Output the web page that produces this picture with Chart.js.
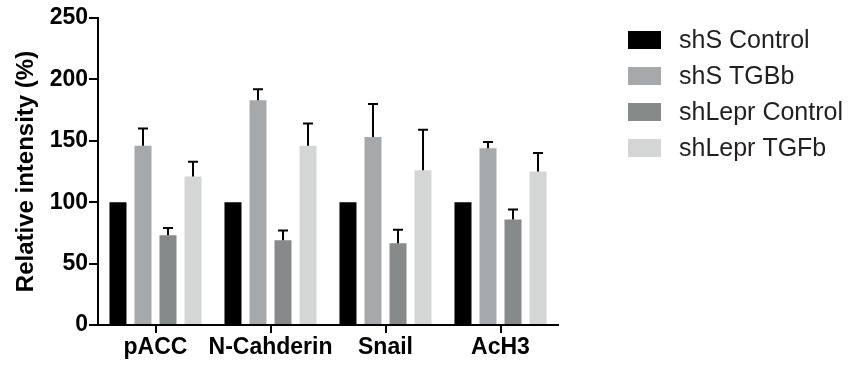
<!DOCTYPE html>
<html>
<head>
<meta charset="utf-8">
<script src="https://cdn.jsdelivr.net/npm/chart.js@4"></script>
<style>
  html, body { margin: 0; padding: 0; background: #fff; }
  #wrap { width: 849px; height: 367px; }
</style>
</head>
<body>
<div id="wrap"><canvas id="myBarChart"></canvas></div>
<script>
// data
var categories = ["pACC", "N-Cahderin", "Snail", "AcH3"];
var seriesNames = ["shS Control", "shS TGBb", "shLepr Control", "shLepr TGFb"];
var shSControl = [100, 100, 100, 100];
var shSTGBb = [146, 183, 153, 144];
var shLeprControl = [73, 69, 66.5, 86];
var shLeprTGFb = [121, 146, 126, 125];
// upper error (SD)
var errShSControl = [0, 0, 0, 0];
var errShSTGBb = [14, 9, 27, 5];
var errShLeprControl = [6, 8, 11, 8];
var errShLeprTGFb = [12, 18, 33, 15];
var yTicks = [0, 50, 100, 150, 200, 250];

var colors = ["#000000", "#a6a9ac", "#878a8b", "#d4d6d6"];
var values = [shSControl, shSTGBb, shLeprControl, shLeprTGFb];
var errors = [errShSControl, errShSTGBb, errShLeprControl, errShLeprTGFb];

var BOLD = "'Liberation Sans', Arial, Helvetica, sans-serif";

// error bars (upward only, with cap)
var errorBars = {
    id: 'errorBars',
    afterDatasetsDraw: function(chart){
        var ctx = chart.ctx;
        var yScale = chart.scales.y;
        ctx.save();
        ctx.strokeStyle = '#000';
        ctx.lineWidth = 2;
        chart.data.datasets.forEach(function(ds, i){
            var meta = chart.getDatasetMeta(i);
            meta.data.forEach(function(bar, j){
                var e = ds.errors[j];
                if(!e) return;
                var yTop = yScale.getPixelForValue(ds.data[j] + e);
                ctx.beginPath();
                ctx.moveTo(bar.x, bar.y);
                ctx.lineTo(bar.x, yTop);
                ctx.moveTo(bar.x - 5, yTop);
                ctx.lineTo(bar.x + 5, yTop);
                ctx.stroke();
            });
        });
        ctx.restore();
    }
};

// legend on the right
var sideLegend = {
    id: 'sideLegend',
    afterDraw: function(chart){
        var ctx = chart.ctx;
        var x0 = chart.chartArea.right + 70;
        ctx.save();
        ctx.font = "25px 'Liberation Sans', Arial, Helvetica, sans-serif";
        ctx.textBaseline = 'middle';
        chart.data.datasets.forEach(function(ds, i){
            var cy = 40 + 36 * i;
            ctx.fillStyle = ds.backgroundColor;
            ctx.fillRect(x0, cy - 9, 33, 18);
            ctx.fillStyle = '#231f20';
            ctx.fillText(ds.label, x0 + 51, cy + 1);
        });
        ctx.restore();
    }
};

var ctx = document.getElementById("myBarChart");
var myBarChart = new Chart(ctx, {
    type: 'bar',
    data: {
        labels: categories,
        datasets: seriesNames.map(function(name, i){
            return {
                label: name,
                data: values[i],
                errors: errors[i],
                backgroundColor: colors[i],
                borderWidth: 0,
                categoryPercentage: 0.87,
                barPercentage: 0.68
            };
        })
    },
    options: {
        responsive: true,
        maintainAspectRatio: false,
        animation: false,
        devicePixelRatio: 1,
        layout: { padding: { left: 0, right: 291, top: 18, bottom: 0 } },
        plugins: {
            legend: { display: false },
            tooltip: { enabled: false }
        },
        scales: {
            x: {
                afterFit: function(scale){ scale.height = 42; },
                grid: { display: true, offset: false, drawOnChartArea: false, drawTicks: true,
                        tickLength: 8, color: '#000', lineWidth: 2 },
                border: { display: true, color: '#000', width: 2 },
                ticks: { color: '#000', padding: 1, maxRotation: 0, autoSkip: false,
                         font: { family: BOLD, size: 23, weight: 'bold' } }
            },
            y: {
                min: 0,
                max: 250,
                afterFit: function(scale){ scale.width = 98; },
                afterBuildTicks: function(scale){
                    scale.ticks = yTicks.map(function(v){ return { value: v }; });
                },
                grid: { display: true, drawOnChartArea: false, drawTicks: true,
                        tickLength: 9, color: '#000', lineWidth: 2 },
                border: { display: true, color: '#000', width: 2 },
                ticks: { color: '#000', padding: 1,
                         font: { family: BOLD, size: 23, weight: 'bold' } },
                title: {
                    display: true,
                    text: 'Relative intensity (%)',
                    color: '#000',
                    padding: { top: 12, bottom: 0 },
                    font: { family: BOLD, size: 24, weight: 'bold' }
                }
            }
        }
    },
    plugins: [errorBars, sideLegend]
});
</script>
</body>
</html>
